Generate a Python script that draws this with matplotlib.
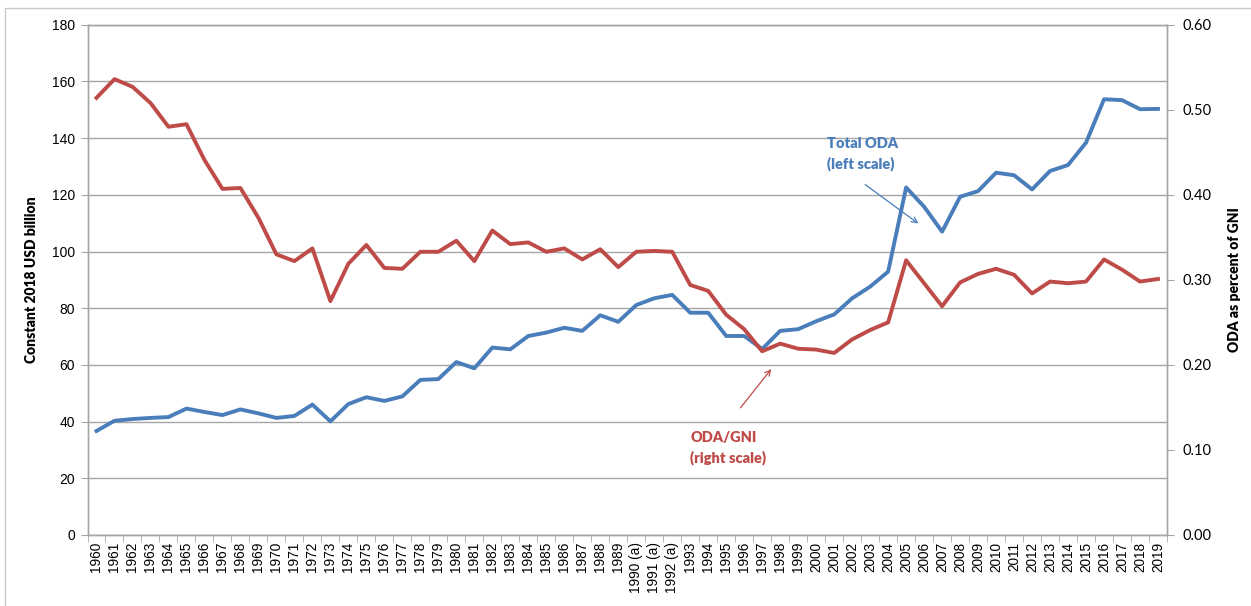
import matplotlib
matplotlib.use("Agg")
import matplotlib.pyplot as plt
from matplotlib.ticker import FixedLocator, FormatStrFormatter
from matplotlib.patches import Rectangle

years = [str(y) for y in range(1960, 1990)] + ["1990 (a)", "1991 (a)", "1992 (a)"] + \
        [str(y) for y in range(1993, 2020)]

total_oda = [36.7, 40.3, 40.9, 41.3, 41.6, 44.6, 43.4, 42.3, 44.3, 42.9,
             41.3, 42.0, 46.0, 40.1, 46.2, 48.6, 47.3, 48.9, 54.7, 55.0,
             61.0, 58.8, 66.1, 65.5, 70.2, 71.4, 73.1, 72.0, 77.5, 75.2,
             81.1, 83.5, 84.7, 78.4, 78.4, 70.2, 70.2, 65.6, 72.0, 72.6,
             75.4, 77.8, 83.5, 87.6, 92.9, 122.6, 115.8, 107.0, 119.3, 121.3,
             127.8, 126.9, 121.9, 128.4, 130.5, 138.4, 153.7, 153.4, 150.2, 150.3]

oda_gni = [0.514, 0.536, 0.527, 0.508, 0.480, 0.483, 0.441, 0.407, 0.408, 0.373,
           0.330, 0.322, 0.337, 0.275, 0.319, 0.341, 0.314, 0.313, 0.333, 0.333,
           0.346, 0.322, 0.358, 0.342, 0.344, 0.333, 0.337, 0.324, 0.336, 0.315,
           0.333, 0.334, 0.333, 0.294, 0.287, 0.259, 0.242, 0.216, 0.225, 0.219,
           0.218, 0.214, 0.230, 0.241, 0.250, 0.323, 0.296, 0.269, 0.297, 0.307,
           0.313, 0.306, 0.284, 0.298, 0.296, 0.298, 0.324, 0.312, 0.298, 0.301]

left_ticks = list(range(0, 181, 20))
right_ticks = [0.0, 0.1, 0.2, 0.3, 0.4, 0.5, 0.6]

BLUE = "#4A7EBB"
RED = "#BE4B48"
GRID = "#A6A6A6"
W, H = 1251, 606

fig = plt.figure(figsize=(W / 100, H / 100), dpi=100)
fig.patches.append(Rectangle((5 / W, -0.1), 1.2, 1 - 8 / H + 0.1, transform=fig.transFigure,
                             fill=False, edgecolor="#C8C8C8", lw=1))
ax = fig.add_axes([87.5 / W, 1 - 535 / H, (1167 - 87.5) / W, (535 - 24.7) / H])
ax2 = ax.twinx()

x = list(range(len(years)))
ax.plot(x, total_oda, color=BLUE, lw=2.8, solid_joinstyle="round", zorder=3)
ax2.plot(x, oda_gni, color=RED, lw=2.8, solid_joinstyle="round", zorder=3)

ax.set_xlim(-0.5, len(years) - 0.5)
ax.set_ylim(0, 180)
ax2.set_ylim(0, 0.6)
ax.set_yticks(left_ticks)
ax2.set_yticks(right_ticks)
ax2.yaxis.set_major_formatter(FormatStrFormatter("%.2f"))

ax.yaxis.grid(True, color=GRID, lw=1)
ax.set_axisbelow(True)

ax.set_xticks(x)
ax.set_xticklabels(years, rotation=90, fontsize=9.8, family="Liberation Sans")
ax.xaxis.set_minor_locator(FixedLocator([i - 0.5 for i in range(len(years) + 1)]))
ax.tick_params(axis="x", which="major", length=0, pad=5)
ax.tick_params(axis="x", which="minor", length=5, color=GRID)
ax.tick_params(axis="y", length=5, color=GRID, labelsize=10, pad=4)
for lab in ax.get_yticklabels():
    lab.set_family("Liberation Sans")
ax2.tick_params(axis="y", length=5, color=GRID, labelsize=10.5, pad=6)
for lab in ax2.get_yticklabels():
    lab.set_family("Lato")

for a in (ax, ax2):
    for s in a.spines.values():
        s.set_color(GRID)
        s.set_linewidth(1)

ax.set_ylabel("Constant 2018 USD billion", fontsize=10, fontweight="heavy", family="Lato", labelpad=10)
ax2.set_ylabel("ODA as percent of GNI", fontsize=10, fontweight="heavy", family="Lato", labelpad=12)

ax.annotate("", xy=(45.8, 109.3), xytext=(42.6, 124.2),
            arrowprops=dict(arrowstyle="->", color=BLUE, lw=0.9))
ax.text(40.6, 134.4, "Total ODA\n(left scale)", color=BLUE, fontsize=10.5, fontweight="heavy",
        family="Lato", ha="left", va="center", linespacing=1.6)

ax.annotate("", xy=(37.6, 59.3), xytext=(35.7, 44.1),
            arrowprops=dict(arrowstyle="->", color=RED, lw=0.9))
ax.text(33.0, 30.7, "ODA/GNI\n(right scale)", color=RED, fontsize=10.5, fontweight="heavy",
        family="Lato", ha="left", va="center", linespacing=1.6)

fig.savefig("out.png", dpi=100)
